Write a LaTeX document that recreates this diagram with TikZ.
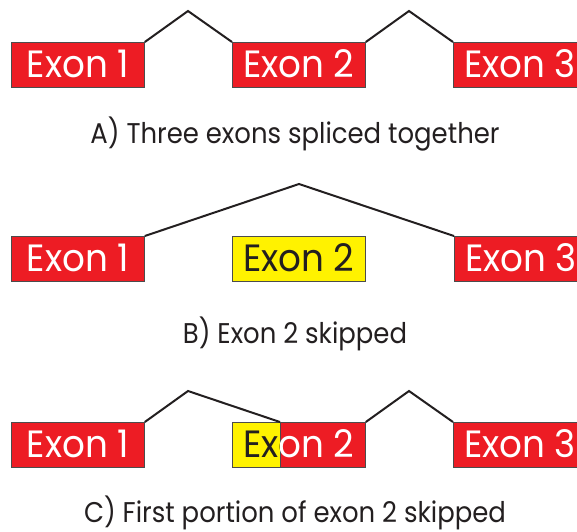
\documentclass[tikz,border=0pt]{standalone}
\usepackage{fontspec}
\setmainfont{Poppins}
\newfontfamily\exonfont{Poppins}[FakeStretch=0.94]
\newfontfamily\capfont{Poppins}[FakeStretch=0.91]
\definecolor{exred}{HTML}{ED1C24}
\definecolor{exyellow}{HTML}{FFF200}
\definecolor{ink}{HTML}{231F20}
\tikzset{
  exon/.style={draw=black!70, line width=0.8pt, fill=exred, text=white,
    anchor=north west, minimum width=133pt, minimum height=45pt, inner sep=0pt,
    text height=35pt, text depth=10pt, font=\exonfont\fontsize{38}{38}\selectfont},
  skipped/.style={exon, fill=exyellow, text=ink},
  intron/.style={draw=ink, line width=2pt, line join=miter},
  caption/.style={anchor=base, text=ink, inner sep=0pt, font=\capfont\fontsize{28.5}{28.5}\selectfont},
  part/.style={draw=black!70, line width=0.8pt, anchor=north west, minimum height=45pt, inner sep=0pt}
}
\begin{document}
\begin{tikzpicture}[x=1pt,y=-1pt]
\clip (0,0) rectangle (577,531);
\useasboundingbox (0,0) rectangle (577,531);
\fill[white] (0,0) rectangle (577,531);
% Row A
\node[exon] (a1) at (11,42) {Exon 1};
\node[exon] (a2) at (232,42) {Exon 2};
\node[exon] (a3) at (453,42) {Exon 3};
\coordinate (pa1) at (188,11);
\coordinate (pa2) at (409,11);
\draw[intron] (a1.north east) -- (pa1) -- (a2.north west);
\draw[intron] (a2.north east) -- (pa2) -- (a3.north west);
\node[caption] (ca) at (295,143) {A) Three exons spliced together};
% Row B
\node[exon] (b1) at (11,236) {Exon 1};
\node[skipped] (b2) at (232,236) {Exon 2};
\node[exon] (b3) at (454,236) {Exon 3};
\coordinate (pb) at (299,184);
\draw[intron] (b1.north east) -- (pb) -- (b3.north west);
\node[caption] (cb) at (295,343) {B) Exon 2 skipped};
% Row C
\node[exon] (c1) at (11,422) {Exon 1};
\node[part, fill=exyellow, minimum width=48pt] (c2y) at (232,422) {};
\node[part, fill=exred, minimum width=85pt] (c2r) at (280,422) {};
\begin{scope}
  \clip (c2y.north west) rectangle (c2y.south east);
  \node[exon, draw=none, fill=none, text=ink] (c2t) at (232,422) {Exon 2};
\end{scope}
\begin{scope}
  \clip (c2r.north west) rectangle (c2r.south east);
  \node[exon, draw=none, fill=none] (c2w) at (232,422) {Exon 2};
\end{scope}
\node[exon] (c3) at (453,422) {Exon 3};
\coordinate (pc1) at (188,391);
\coordinate (pc2) at (409,391);
\draw[intron] (c1.north east) -- (pc1) -- (c2r.north west);
\draw[intron] (c2r.north east) -- (pc2) -- (c3.north west);
\node[caption] (cc) at (295,522) {C) First portion of exon 2 skipped};
\end{tikzpicture}
\end{document}
